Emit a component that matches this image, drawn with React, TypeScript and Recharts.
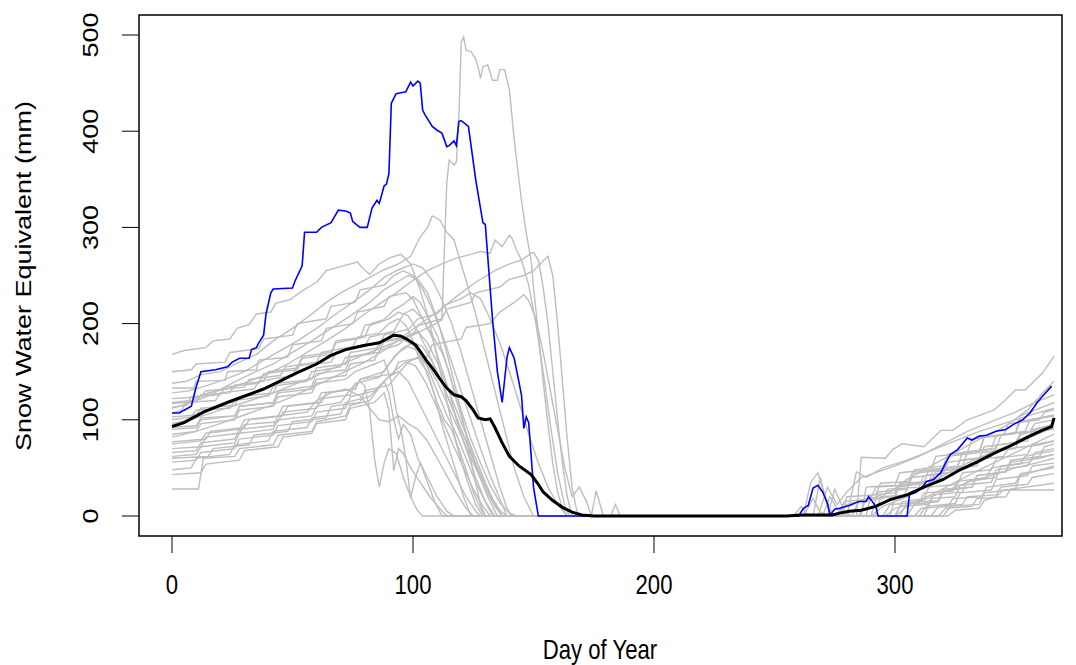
import React from "react";
import { LineChart, Line, XAxis, YAxis, ReferenceArea } from "recharts";

// day-of-year keypoints, [day, SWE mm]
const dayTicks = [0, 100, 200, 300];
const sweTicks = [0, 100, 200, 300, 400, 500];

const meanSwe = [[0,93],[5,97],[13,108],[24,119],[38,132],[52,149],[60,158],[66,167],[72,173],[79,177],[86,180],[89,184],[92,188],[95,187],[98,183],[101,178],[103,171],[106,160],[108,154],[111,143],[114,133],[117,126],[120,124],[122,120],[125,110],[127,102],[130,100],[132,101],[134,92],[137,76],[140,62],[144,52],[149,43],[152,33],[154,25],[158,16],[162,9],[166,4],[170,1],[175,0],[255,0],[261,1],[274,1],[277,3],[281,5],[286,6],[292,10],[298,17],[305,22],[313,31],[320,38],[327,48],[334,56],[341,65],[348,73],[355,82],[361,89],[365,93],[366,102]];

const thisYear = [[0,107],[3,107],[5,110],[8,114],[10,134],[12,150],[18,152],[23,155],[25,160],[28,164],[32,164],[33,173],[35,175],[36,180],[38,188],[39,210],[41,232],[42,236],[50,237],[51,244],[54,260],[55,295],[60,295],[62,300],[66,305],[69,318],[72,317],[74,315],[75,306],[78,300],[81,300],[83,320],[85,328],[86,325],[88,343],[89,345],[90,356],[91,429],[93,439],[95,440],[97,441],[99,451],[100,447],[102,452],[103,450],[104,422],[105,417],[108,405],[110,401],[112,398],[114,384],[115,385],[117,390],[118,385],[119,410],[120,411],[123,405],[126,350],[129,305],[130,303],[133,204],[135,150],[137,118],[139,165],[140,175],[142,164],[145,126],[146,91],[147,103],[148,97],[150,30],[152,0],[260,0],[262,8],[264,11],[266,29],[268,32],[270,25],[272,13],[273,1],[275,7],[277,8],[281,11],[285,15],[288,15],[289,20],[290,17],[292,10],[293,0],[305,0],[306,22],[309,25],[312,32],[313,36],[316,38],[319,45],[321,55],[323,64],[326,69],[330,81],[332,79],[335,83],[338,84],[342,88],[346,90],[349,95],[353,100],[356,107],[359,118],[361,124],[365,135]];

const y01 = [[0,168],[5,172],[14,175],[17,182],[24,184],[27,195],[32,199],[35,210],[41,212],[43,221],[49,225],[54,234],[60,243],[64,255],[71,260],[77,264],[79,258],[82,251],[86,262],[90,268],[95,272],[99,262],[103,235],[107,200],[110,165],[114,120],[118,75],[122,40],[126,12],[129,0],[262,0],[266,18],[269,4],[272,0],[284,0],[286,61],[296,60],[299,69],[303,75],[312,72],[319,89],[324,89],[330,100],[341,110],[346,121],[350,131],[354,131],[361,148],[366,166]];
const y02 = [[0,138],[6,140],[12,147],[20,150],[28,160],[35,168],[42,182],[50,195],[58,210],[64,222],[70,232],[76,240],[82,248],[88,256],[94,262],[99,270],[103,290],[106,300],[108,312],[111,308],[114,295],[117,287],[119,270],[122,245],[126,210],[130,170],[134,130],[138,90],[142,50],[146,20],[150,0],[275,0],[280,12],[290,18],[298,25],[305,38],[315,52],[325,66],[335,80],[345,92],[355,110],[362,130],[366,140]];
const y03 = [[0,118],[8,120],[15,128],[24,133],[32,140],[40,148],[48,158],[56,170],[64,182],[72,195],[80,210],[87,222],[93,232],[100,245],[106,255],[112,262],[118,268],[124,272],[128,275],[132,273],[134,287],[137,280],[140,292],[141,289],[143,276],[145,266],[148,240],[151,200],[154,150],[157,95],[160,45],[163,10],[165,0],[290,0],[295,10],[305,20],[312,30],[320,42],[330,55],[340,66],[350,76],[360,86],[366,92]];
const y04 = [[0,82],[10,88],[20,96],[30,105],[40,114],[50,124],[60,136],[70,148],[80,160],[88,172],[95,185],[102,198],[110,212],[118,228],[126,243],[134,255],[140,262],[145,266],[149,273],[150,274],[152,266],[154,238],[156,200],[158,150],[160,100],[162,55],[164,20],[166,0],[296,0],[300,8],[310,15],[320,25],[330,35],[340,42],[350,50],[360,56],[366,60]];
const y05 = [[0,96],[10,102],[20,110],[30,118],[40,126],[50,136],[60,146],[70,157],[80,168],[90,178],[100,188],[108,198],[112,204],[114,346],[115,370],[117,365],[118,368],[119,412],[120,492],[121,498],[122,484],[124,483],[126,475],[127,467],[128,455],[129,467],[131,469],[133,453],[135,453],[136,464],[138,464],[140,443],[142,391],[144,349],[145,328],[147,294],[149,266],[150,238],[152,190],[154,140],[156,95],[158,55],[160,25],[162,8],[164,0],[300,0],[306,12],[315,22],[325,35],[335,48],[345,60],[355,72],[366,85]];
const y06 = [[0,128],[7,130],[15,136],[22,142],[30,150],[38,162],[45,172],[52,182],[60,195],[68,210],[75,222],[82,235],[88,248],[94,256],[100,262],[104,258],[108,245],[112,225],[116,200],[120,170],[124,135],[128,100],[132,65],[136,30],[139,8],[141,0],[268,0],[272,30],[276,12],[280,25],[286,40],[292,45],[300,52],[310,62],[320,75],[330,88],[340,98],[350,108],[358,118],[366,126]];
const y07 = [[0,112],[8,118],[16,126],[25,138],[33,148],[42,158],[50,170],[58,182],[66,195],[74,208],[82,222],[88,235],[94,244],[98,250],[102,246],[106,232],[110,205],[114,170],[118,130],[122,85],[125,45],[128,12],[130,0],[280,0],[284,46],[288,40],[295,50],[305,58],[315,68],[325,78],[335,88],[345,96],[355,104],[366,112]];
const y08 = [[0,133],[9,133],[10,140],[22,141],[23,150],[35,152],[36,162],[48,165],[50,178],[62,182],[64,195],[75,200],[77,212],[88,218],[90,228],[97,232],[100,225],[104,205],[108,185],[111,160],[115,130],[118,100],[122,70],[126,40],[130,15],[133,0],[286,0],[288,30],[300,32],[302,45],[315,48],[317,62],[330,66],[332,80],[345,84],[347,96],[360,100],[362,108],[366,110]];
const y09 = [[0,122],[12,124],[14,130],[30,134],[32,142],[45,146],[47,155],[60,160],[62,170],[75,176],[77,186],[86,190],[90,200],[94,205],[97,198],[100,182],[103,160],[106,150],[109,125],[112,95],[115,70],[118,45],[121,20],[124,0],[278,0],[280,20],[292,22],[294,34],[306,36],[308,48],[320,52],[322,64],[335,68],[337,82],[350,86],[352,98],[366,105]];
const y10 = [[0,107],[4,110],[6,118],[18,120],[20,128],[34,132],[36,140],[50,146],[52,156],[66,160],[68,170],[80,176],[82,186],[92,192],[96,210],[100,215],[104,205],[108,188],[112,170],[115,150],[118,120],[121,95],[124,70],[127,45],[131,20],[135,0],[300,0],[303,15],[312,18],[314,30],[326,33],[328,45],[340,48],[342,60],[355,64],[357,74],[366,78]];
const y11 = [[0,92],[10,94],[12,102],[26,104],[28,114],[42,118],[44,128],[58,132],[60,142],[72,146],[74,158],[84,162],[86,172],[94,178],[98,188],[102,192],[106,180],[110,160],[114,135],[118,110],[122,85],[126,60],[130,35],[134,12],[137,0],[262,0],[265,35],[268,45],[271,20],[274,0],[292,0],[294,20],[304,22],[306,34],[318,36],[320,48],[334,52],[336,66],[350,70],[352,84],[366,96]];
const y12 = [[0,100],[8,103],[10,110],[24,112],[26,120],[40,125],[42,135],[56,140],[58,150],[70,155],[72,165],[84,170],[86,180],[95,184],[100,178],[104,160],[107,140],[110,118],[113,100],[116,90],[119,70],[122,48],[125,25],[128,8],[130,0],[305,0],[308,12],[318,15],[320,26],[332,30],[334,42],[346,46],[348,58],[360,62],[362,72],[366,75]];
const y13 = [[0,77],[14,80],[16,88],[30,92],[32,100],[46,104],[48,114],[62,118],[64,128],[76,132],[78,142],[88,150],[92,165],[96,175],[100,180],[104,176],[108,160],[112,138],[116,115],[120,90],[124,65],[128,42],[132,22],[136,6],[139,0],[270,0],[273,20],[276,8],[280,0],[300,0],[302,10],[314,12],[316,22],[328,25],[330,36],[342,40],[344,52],[356,56],[358,66],[366,70]];
const y14 = [[0,70],[12,72],[14,82],[28,86],[30,95],[44,98],[46,108],[60,112],[62,122],[74,126],[76,138],[86,144],[90,158],[94,170],[98,176],[102,172],[106,155],[110,130],[114,105],[118,85],[122,60],[126,35],[130,15],[134,0],[310,0],[313,10],[325,13],[327,24],[340,27],[342,38],[355,42],[357,52],[366,55]];
const y15 = [[0,56],[10,58],[12,66],[26,70],[28,80],[42,84],[44,94],[58,98],[60,108],[72,112],[74,124],[84,130],[88,140],[93,152],[97,160],[101,156],[105,140],[109,118],[113,95],[117,72],[121,50],[125,28],[129,10],[132,0],[322,0],[325,6],[335,8],[337,16],[342,20],[345,27],[366,27]];
const y16 = [[0,48],[8,50],[10,60],[24,64],[26,74],[40,78],[42,88],[56,92],[58,102],[70,106],[72,118],[82,124],[86,134],[90,145],[94,150],[98,140],[102,120],[106,100],[110,80],[114,60],[118,40],[122,20],[126,5],[128,0],[315,0],[318,10],[328,12],[330,20],[342,22],[344,30],[355,33],[357,40],[366,44]];
const y17 = [[0,28],[11,28],[13,60],[26,62],[28,70],[42,74],[44,84],[58,88],[60,98],[72,104],[74,115],[82,120],[85,130],[88,140],[90,128],[92,100],[94,80],[96,95],[99,85],[102,60],[106,40],[110,20],[114,5],[117,0],[282,0],[285,15],[295,18],[297,28],[310,30],[312,42],[325,46],[327,58],[340,62],[342,74],[355,78],[357,90],[366,95]];
const y18 = [[0,62],[10,64],[12,72],[26,76],[28,86],[42,90],[44,100],[58,104],[60,114],[70,118],[74,132],[78,140],[80,135],[82,110],[84,60],[86,30],[88,55],[90,70],[93,65],[96,40],[99,20],[102,5],[104,0],[295,0],[298,12],[310,14],[312,24],[324,26],[326,36],[338,40],[340,50],[352,54],[354,62],[366,68]];
const y19 = [[0,85],[10,88],[12,96],[26,100],[28,110],[42,114],[44,124],[58,128],[60,138],[72,142],[76,150],[84,158],[88,162],[91,140],[93,110],[95,90],[97,60],[99,19],[101,40],[103,55],[106,35],[109,15],[112,0],[258,0],[261,10],[264,0],[288,0],[290,22],[300,24],[302,34],[315,36],[317,46],[330,50],[332,58],[345,62],[347,70],[360,74],[366,78]];
const y20 = [[0,43],[12,45],[14,54],[28,58],[30,68],[44,72],[46,82],[58,86],[60,96],[72,100],[74,112],[84,118],[88,128],[90,110],[92,47],[94,70],[96,65],[99,50],[103,35],[107,20],[111,8],[114,0],[308,0],[311,8],[322,10],[324,18],[336,20],[338,30],[350,34],[352,44],[366,50]];
const y21 = [[0,66],[10,68],[12,76],[26,80],[28,90],[42,94],[44,104],[56,108],[60,120],[66,128],[72,132],[78,125],[82,112],[86,100],[90,98],[94,104],[98,96],[102,90],[106,78],[110,60],[114,42],[118,24],[122,8],[125,0],[320,0],[323,10],[335,12],[337,24],[350,28],[352,42],[366,52]];
const y22 = [[0,113],[6,115],[8,124],[20,126],[22,134],[36,138],[38,148],[52,152],[54,164],[66,168],[68,180],[78,185],[80,198],[88,204],[92,214],[96,220],[100,228],[103,222],[106,208],[110,188],[113,165],[116,140],[120,110],[124,80],[128,55],[132,32],[136,14],[140,3],[143,0],[312,0],[315,18],[325,20],[327,32],[340,35],[342,48],[355,52],[357,60],[366,64]];
const y23 = [[0,90],[10,92],[12,100],[26,104],[28,114],[42,118],[44,130],[58,135],[60,148],[72,152],[74,165],[86,170],[88,182],[100,188],[102,198],[112,205],[114,215],[124,222],[126,232],[136,238],[140,246],[146,250],[150,255],[154,265],[156,270],[158,250],[160,200],[162,140],[164,80],[166,30],[168,5],[170,0],[276,0],[279,15],[290,18],[292,30],[305,32],[307,44],[320,48],[322,62],[335,66],[337,82],[350,86],[352,104],[366,118]];
const y24 = [[0,75],[12,78],[14,86],[28,90],[30,100],[44,104],[46,114],[60,118],[62,128],[76,132],[78,142],[92,148],[94,160],[106,166],[108,178],[120,184],[122,196],[132,200],[136,212],[142,222],[146,230],[148,224],[151,205],[154,170],[157,130],[160,90],[163,50],[166,20],[169,30],[172,15],[174,0],[176,26],[179,0],[266,0],[269,40],[272,10],[275,0],[302,0],[305,14],[318,16],[320,28],[332,30],[334,42],[346,46],[348,56],[360,60],[366,64]];
const y25 = [[0,103],[10,105],[12,112],[26,115],[28,124],[42,128],[44,138],[58,142],[60,154],[72,158],[74,170],[86,175],[88,188],[98,194],[102,205],[110,210],[114,220],[120,226],[124,232],[128,226],[132,205],[136,180],[140,150],[144,118],[148,85],[152,55],[156,30],[160,12],[164,0],[182,0],[184,12],[186,0],[290,0],[293,25],[305,28],[307,40],[320,44],[322,56],[335,60],[337,72],[350,76],[352,86],[366,90]];
const y26 = [[0,150],[8,152],[10,158],[22,160],[24,170],[36,174],[38,184],[50,188],[52,200],[64,205],[66,218],[76,222],[78,235],[88,240],[92,250],[96,255],[100,250],[104,236],[108,215],[112,190],[116,160],[120,130],[124,100],[128,70],[132,42],[136,18],[139,0],[272,0],[275,28],[279,5],[282,0],[298,0],[301,30],[312,34],[314,48],[326,52],[328,66],[340,70],[342,84],[354,88],[356,100],[366,104]];
const y27 = [[0,117],[10,119],[12,126],[24,128],[26,136],[38,140],[40,150],[52,154],[54,166],[66,170],[68,182],[80,186],[82,198],[90,205],[94,212],[98,208],[102,192],[106,172],[110,150],[114,126],[118,102],[122,78],[126,55],[130,32],[134,12],[137,0],[285,0],[288,18],[300,20],[302,32],[314,35],[316,48],[328,52],[330,66],[342,70],[344,84],[356,88],[358,96],[366,100]];
const y28 = [[0,60],[15,62],[17,70],[32,74],[34,84],[48,88],[50,98],[64,102],[66,114],[78,118],[80,130],[90,136],[94,148],[98,160],[102,165],[106,158],[110,140],[114,118],[118,95],[122,72],[126,50],[130,28],[134,10],[137,0],[318,0],[321,8],[332,10],[334,18],[346,20],[348,28],[360,32],[366,34]];

const pastYears = [y01, y02, y03, y04, y05, y06, y07, y08, y09, y10, y11, y12, y13, y14, y15, y16, y17, y18, y19, y20, y21, y22, y23, y24, y25, y26, y27, y28];

const XMIN = -13.7;
const XMAX = 369.3;
const YMIN = -20.8;
const YMAX = 520.8;

const FONT = "'Liberation Sans', Arial, Helvetica, sans-serif";
const FS = 27;
// the text in the picture is narrower than it is tall
const SX = 0.82;

const toPts = (arr: number[][]) => arr.map(([day, swe]) => ({ day, swe }));

const XTick = (props: any) => {
  const { x, y, payload } = props;
  return (
    <text
      x={0}
      y={FS * 0.716}
      transform={`translate(${x}, ${y}) scale(${SX}, 1)`}
      textAnchor="middle"
      fontSize={FS}
      fontFamily={FONT}
      fill="#000">
      {payload.value}
    </text>
  );
};

const YTick = (props: any) => {
  const { x, y, payload } = props;
  return (
    <text
      x={0}
      y={0}
      transform={`translate(${x}, ${y}) rotate(-90) scale(1, ${SX})`}
      textAnchor="middle"
      fontSize={FS}
      fontFamily={FONT}
      fill="#000">
      {payload.value}
    </text>
  );
};

const App = () => {
  return (
    <div style={{ position: "absolute", left: 0, top: 0, width: 1076, height: 665, background: "#fff" }}>
      <LineChart
        width={1076}
        height={665}
        margin={{ top: 15, right: 14, bottom: 0, left: 0 }}>
        <XAxis
          type="number"
          dataKey="day"
          domain={[XMIN, XMAX]}
          ticks={dayTicks}
          allowDataOverflow
          axisLine={false}
          tickLine={{ stroke: "#000", strokeWidth: 1 }}
          tickSize={17}
          tickMargin={22}
          height={129}
          tick={<XTick />}
        />
        <YAxis
          type="number"
          domain={[YMIN, YMAX]}
          ticks={sweTicks}
          allowDataOverflow
          axisLine={false}
          tickLine={{ stroke: "#000", strokeWidth: 1 }}
          tickSize={17}
          tickMargin={24}
          width={139}
          tick={<YTick />}
        />
        {pastYears.map((yr, i) => (
          <Line
            key={i}
            data={toPts(yr)}
            dataKey="swe"
            type="linear"
            stroke="#BEBEBE"
            strokeWidth={1.4}
            dot={false}
            activeDot={false}
            isAnimationActive={false}
          />
        ))}
        <Line
          data={toPts(thisYear)}
          dataKey="swe"
          type="linear"
          stroke="#0000FF"
          strokeWidth={1.6}
          dot={false}
          activeDot={false}
          isAnimationActive={false}
        />
        <Line
          data={toPts(meanSwe)}
          dataKey="swe"
          type="linear"
          stroke="#000"
          strokeWidth={3}
          dot={false}
          activeDot={false}
          isAnimationActive={false}
        />
        <ReferenceArea
          x1={XMIN}
          x2={XMAX}
          y1={YMIN}
          y2={YMAX}
          fill="none"
          stroke="#000"
          strokeWidth={1.5}
          ifOverflow="visible"
        />
      </LineChart>
      <svg
        width={1076}
        height={665}
        style={{ position: "absolute", left: 0, top: 0, pointerEvents: "none" }}>
        <text
          x={0}
          y={0}
          transform={`translate(600, 659) scale(${SX}, 1)`}
          textAnchor="middle"
          fontSize={FS}
          fontFamily={FONT}
          fill="#000">
          Day of Year
        </text>
        <text
          x={0}
          y={0}
          transform={`translate(31, 276) rotate(-90) scale(1, ${SX})`}
          textAnchor="middle"
          fontSize={FS}
          fontFamily={FONT}
          fill="#000">
          Snow Water Equivalent (mm)
        </text>
      </svg>
    </div>
  );
};

export default App;
